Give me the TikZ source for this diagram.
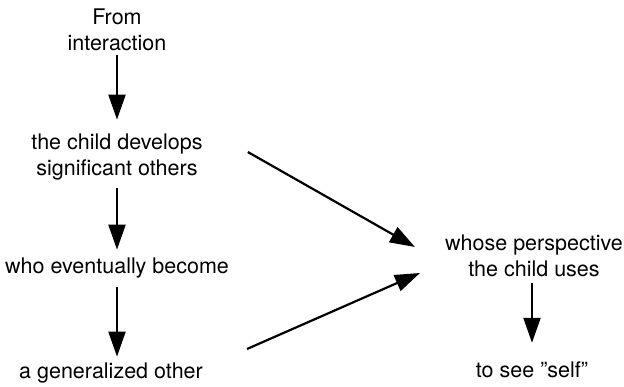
\documentclass[tikz,border=0pt]{standalone}
\usepackage{fontspec}
\setmainfont{TeX Gyre Heros}
\usetikzlibrary{arrows.meta,calc}
\begin{document}
\begin{tikzpicture}[x=1pt,y=-1pt,
  txt/.style={inner sep=0pt, align=center, font=\fontsize{21.5}{26}\selectfont},
  arr/.style={line width=2.2pt, -{Triangle[length=25pt,width=17pt]}}]
\useasboundingbox (0,0) rectangle (624,387);
\node[txt] (a) at (117,30) {From\\interaction};
\node[txt] (b) at (117,157) {the child develops\\significant others};
\node[txt] (c) at (117,268) {who eventually become};
\node[txt] (d) at (111,373) {a generalized other};
\node[txt] (e) at (534,256) {whose perspective\\the child uses};
\node[txt] (f) at (532,370) {to see {"}self{"}};
\draw[arr] ($(a.south)+(0,4)$) -- ($(b.north)+(0,-14)$);
\draw[arr] ($(b.south)+(0,8)$) -- ($(c.north)+(0,-8)$);
\draw[arr] ($(c.south)+(0,9)$) -- ($(d.north)+(6,-6)$);
\draw[arr] ($(e.south)+(-2,6)$) -- ($(f.north)+(0,-19)$);
\draw[arr] ($(b.east)+(45,-5)$) -- ($(e.west)+(-30,-9)$);
\draw[arr] ($(d.east)+(44,-24)$) -- ($(e.west)+(-25,17)$);
\end{tikzpicture}
\end{document}
